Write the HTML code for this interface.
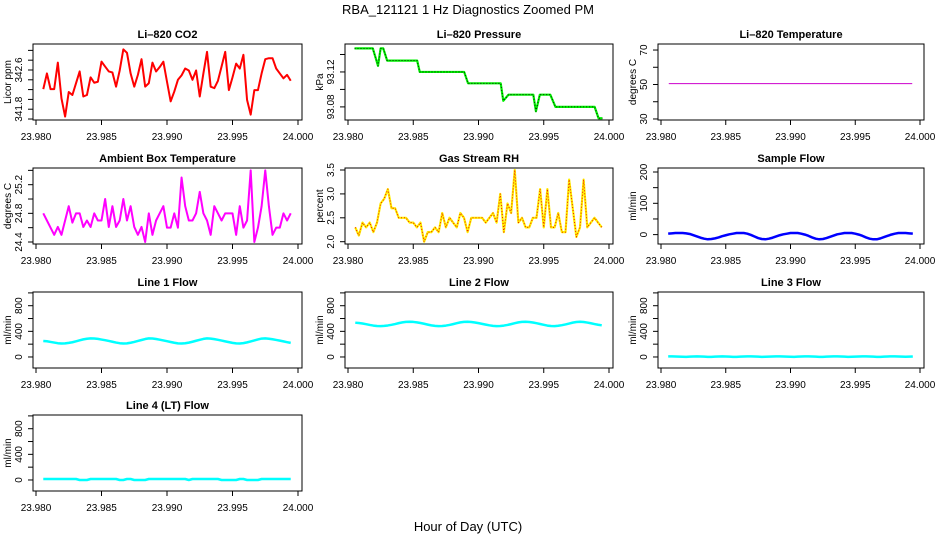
<!DOCTYPE html>
<html><head><meta charset="utf-8"><style>
html,body{margin:0;padding:0;background:#fff;width:936px;height:540px;overflow:hidden}
svg text{font-family:"Liberation Sans",sans-serif;fill:#000}
</style></head><body>
<svg id="fig" width="936" height="540" viewBox="0 0 936 540" xmlns="http://www.w3.org/2000/svg">
<text x="468" y="14" text-anchor="middle" font-size="13">RBA_121121  1 Hz Diagnostics Zoomed PM</text>
<text x="468" y="531" text-anchor="middle" font-size="13">Hour of Day (UTC)</text>
</svg>
<script>
// ---- data (1 Hz samples starting 23:58:50 UTC) ----
const startHour = 23 + 58/60 + 50/3600;
const xTicks = [23.980, 23.985, 23.990, 23.995, 24.000];
const xTickLabels = ["23.980", "23.985", "23.990", "23.995", "24.000"];

const co2 = [342.21,342.53,342.21,342.21,342.75,342.02,341.65,342.15,342.09,342.33,342.57,342.06,342.09,342.45,342.34,342.36,342.77,342.67,342.57,342.55,342.26,342.59,343.02,342.95,342.53,342.26,342.50,342.82,342.26,342.33,342.75,342.57,342.66,342.77,342.36,341.96,342.16,342.40,342.49,342.63,342.59,342.40,342.59,342.06,342.53,342.97,342.26,342.23,342.38,342.67,342.97,342.19,342.45,342.73,342.63,342.91,341.99,341.69,342.19,342.19,342.53,342.82,342.84,342.84,342.63,342.53,342.43,342.50,342.38];

const pressureTimes = [23.9805,23.9819,23.9823,23.9825,23.9827,23.9830,23.9853,23.9855,23.9889,23.9892,23.9917,23.9919,23.9923,23.9942,23.9944,23.9947,23.9955,23.9959,23.9989,23.9992,23.9995];
const pressureValues = [93.147,93.147,93.127,93.147,93.147,93.133,93.133,93.120,93.120,93.107,93.107,93.087,93.094,93.094,93.075,93.094,93.094,93.080,93.080,93.067,93.067];

const li820Temp = [50.5,50.5];
const li820TempTimes = [23.9806,23.9994];

const ambientTemp = [24.80,24.70,24.60,24.50,24.61,24.50,24.70,24.90,24.67,24.80,24.80,24.61,24.70,24.61,24.80,24.70,24.70,25.00,24.61,24.90,24.61,24.70,25.00,24.70,24.90,24.61,24.50,24.61,24.40,24.80,24.50,24.70,24.80,24.90,24.60,24.60,24.80,24.60,25.30,24.90,24.70,24.70,24.80,25.10,24.80,24.70,24.50,24.90,24.80,24.70,24.80,24.80,24.80,24.50,24.90,24.60,24.70,25.40,24.40,24.60,24.90,25.40,24.90,24.50,24.60,24.60,24.80,24.70,24.80];

const rh = [2.30,2.13,2.40,2.30,2.40,2.20,2.40,2.80,2.90,3.10,2.70,2.70,2.50,2.50,2.50,2.40,2.40,2.30,2.40,2.00,2.20,2.20,2.30,2.20,2.60,2.30,2.50,2.40,2.30,2.60,2.50,2.20,2.50,2.50,2.50,2.50,2.40,2.50,2.60,2.40,3.00,2.20,2.80,2.60,3.50,2.40,2.50,2.30,2.30,2.50,2.50,3.10,2.30,3.10,2.30,2.30,2.60,2.20,2.20,3.30,2.70,2.10,2.30,3.30,2.30,2.40,2.50,2.40,2.30];

const sampleFlow = [3,4,5,5,5,4,2,-2,-6,-10,-13,-15,-14,-12,-9,-5,-2,1,3,5,5,5,3,-1,-6,-11,-14,-15,-13,-10,-6,-2,1,3,5,5,5,3,0,-4,-9,-13,-15,-14,-11,-7,-3,1,3,5,5,5,3,0,-4,-9,-13,-15,-15,-12,-8,-4,0,3,5,5,5,4,3];

const line1Flow = [250,245,235,225,215,210,212,220,230,245,260,275,285,290,288,282,272,262,250,238,225,215,210,213,222,235,250,265,280,290,288,280,270,258,246,234,222,213,210,214,224,238,253,268,282,290,287,278,268,256,244,232,220,212,210,216,228,243,258,274,287,290,285,276,266,255,243,231,220];

const line2Flow = [535,530,522,512,500,490,483,482,485,492,502,514,528,540,548,550,547,540,530,518,505,493,485,481,483,490,500,513,527,540,548,550,546,538,528,517,505,494,486,481,483,490,500,513,527,540,548,550,546,538,527,515,502,490,483,482,487,496,508,522,536,546,550,546,537,526,514,503,494];

const line3Flow = [10,10,8,5,3,2,5,8,10,8,5,2,2,5,8,10,8,5,2,2,5,8,10,10,8,5,2,3,5,8,10,10,8,5,3,2,5,8,10,10,8,5,2,2,5,8,10,10,8,5,2,3,5,8,10,10,8,5,2,2,5,8,10,10,8,5,3,5,8];

const line4Flow = [15,15,15,15,15,15,15,15,15,15,0,0,0,15,15,15,15,15,15,15,15,0,0,15,15,0,0,0,0,15,15,15,15,15,15,15,15,15,15,15,0,15,15,15,15,15,15,15,15,0,0,0,0,0,15,15,0,0,0,0,15,15,15,15,15,15,15,15,15];

// ---- layout ----
const svg = document.getElementById('fig');
const NS = 'http://www.w3.org/2000/svg';
const colLeft = [33, 345, 658];
const colRight = [302, 613, 924];
const rowTop = [44, 168, 292, 415];
const boxH = 76;

function mk(tag, attrs, parent) {
  const e = document.createElementNS(NS, tag);
  for (const k in attrs) e.setAttribute(k, attrs[k]);
  (parent || svg).appendChild(e);
  return e;
}
function seconds(n) { const t = []; for (let i = 0; i < n; i++) t.push(startHour + i / 3600); return t; }

const panels = [
  {name:'li820-co2', title:'Li\u2013820 CO2', ylab:'Licor ppm', c:0, r:0, ymin:341.58, ymax:343.13, ticks:[341.6,341.8,342.0,342.2,342.4,342.6,342.8,343.0], labels:[341.8,342.6], fmt:1,
   series:[{t:seconds(co2.length), v:co2, color:'#ff0000', w:2}]},
  {name:'li820-pressure', title:'Li\u2013820 Pressure', ylab:'kPa', c:1, r:0, ymin:93.065, ymax:93.152, ticks:[93.08,93.10,93.12,93.14], labels:[93.08,93.12], fmt:2,
   series:[{t:pressureTimes, v:pressureValues, color:'#00ee00', w:2.2},{t:pressureTimes, v:pressureValues, color:'#000', w:0.8, dash:'1,2'}]},
  {name:'li820-temperature', title:'Li\u2013820 Temperature', ylab:'degrees C', c:2, r:0, ymin:29.4, ymax:73.5, ticks:[30,40,50,60,70], labels:[30,50,70], fmt:0,
   series:[{t:li820TempTimes, v:li820Temp, color:'#cc00cc', w:1}]},
  {name:'ambient-box-temperature', title:'Ambient Box Temperature', ylab:'degrees C', c:0, r:1, ymin:24.372, ymax:25.433, ticks:[24.4,24.6,24.8,25.0,25.2,25.4], labels:[24.4,24.8,25.2], fmt:1,
   series:[{t:seconds(ambientTemp.length), v:ambientTemp, color:'#ff00ff', w:2}]},
  {name:'gas-stream-rh', title:'Gas Stream RH', ylab:'percent', c:1, r:1, ymin:1.952, ymax:3.542, ticks:[2.0,2.5,3.0,3.5], labels:[2.0,2.5,3.0,3.5], fmt:1,
   series:[{t:seconds(rh.length), v:rh, color:'#ffee00', w:2.2},{t:seconds(rh.length), v:rh, color:'#ee0000', w:0.9, dash:'1,2'}]},
  {name:'sample-flow', title:'Sample Flow', ylab:'ml/min', c:2, r:1, ymin:-30, ymax:212.8, ticks:[0,50,100,150,200], labels:[0,100,200], fmt:0,
   series:[{t:seconds(sampleFlow.length), v:sampleFlow, color:'#0000ff', w:2.5}]},
  {name:'line-1-flow', title:'Line 1 Flow', ylab:'ml/min', c:0, r:2, ymin:-172, ymax:1014, ticks:[0,200,400,600,800,1000], labels:[0,400,800], fmt:0,
   series:[{t:seconds(line1Flow.length), v:line1Flow, color:'#00ffff', w:2.5}]},
  {name:'line-2-flow', title:'Line 2 Flow', ylab:'ml/min', c:1, r:2, ymin:-172, ymax:1014, ticks:[0,200,400,600,800,1000], labels:[0,400,800], fmt:0,
   series:[{t:seconds(line2Flow.length), v:line2Flow, color:'#00ffff', w:2.5}]},
  {name:'line-3-flow', title:'Line 3 Flow', ylab:'ml/min', c:2, r:2, ymin:-172, ymax:1014, ticks:[0,200,400,600,800,1000], labels:[0,400,800], fmt:0,
   series:[{t:seconds(line3Flow.length), v:line3Flow, color:'#00ffff', w:2.5}]},
  {name:'line-4-lt-flow', title:'Line 4 (LT) Flow', ylab:'ml/min', c:0, r:3, ymin:-172, ymax:1014, ticks:[0,200,400,600,800,1000], labels:[0,400,800], fmt:0,
   series:[{t:seconds(line4Flow.length), v:line4Flow, color:'#00ffff', w:2.5}]}
];

panels.forEach(p => {
  const L = colLeft[p.c], R = colRight[p.c], T = rowTop[p.r], B = T + boxH;
  const xs = t => (L + 3) + (t - 23.98) / 0.02 * ((R - 4) - (L + 3));
  const ys = v => B - (v - p.ymin) / (p.ymax - p.ymin) * boxH;
  const g = mk('g', {});
  
  

  const title = mk('text', {x:(L+R)/2, y:T-6, 'text-anchor':'middle', 'font-size':'11', 'font-weight':'bold'}, g);
  title.textContent = p.title;
  
  

  p.series.forEach(s => {
    let d = '';
    s.t.forEach((t, i) => { d += (i ? 'L' : 'M') + xs(t).toFixed(2) + ',' + ys(s.v[i]).toFixed(2); });
    const path = mk('path', {d:d, fill:'none', stroke:s.color, 'stroke-width':s.w, 'stroke-linejoin':'round'}, g);
    if (s.dash) path.setAttribute('stroke-dasharray', s.dash);
    
    
  });

  const box = mk('rect', {x:L, y:T, width:R-L, height:boxH, fill:'none', stroke:'#000', 'stroke-width':1}, g);
  
  

  xTicks.forEach((t, i) => {
    const x = xs(t);
    const tk = mk('line', {x1:x, x2:x, y1:B, y2:B+5, stroke:'#000', 'stroke-width':1}, g);
    
    
    const lb = mk('text', {x:x, y:B+20, 'text-anchor':'middle', 'font-size':'10'}, g);
    lb.textContent = xTickLabels[i];
    
    
  });

  p.ticks.forEach(v => {
    const y = ys(v);
    const tk = mk('line', {x1:L-5, x2:L, y1:y, y2:y, stroke:'#000', 'stroke-width':1}, g);
    
    
  });
  p.labels.forEach(v => {
    const y = ys(v);
    const lb = mk('text', {x:0, y:0, 'text-anchor':'middle', 'font-size':'10', transform:'translate(' + (L-11) + ',' + y + ') rotate(-90)'}, g);
    lb.textContent = v.toFixed(p.fmt);
    
    
  });
  const yl = mk('text', {x:0, y:0, 'text-anchor':'middle', 'font-size':'10', transform:'translate(' + (L-22) + ',' + (T+boxH/2) + ') rotate(-90)'}, g);
  yl.textContent = p.ylab;
  
  
});
</script>
</body></html>
